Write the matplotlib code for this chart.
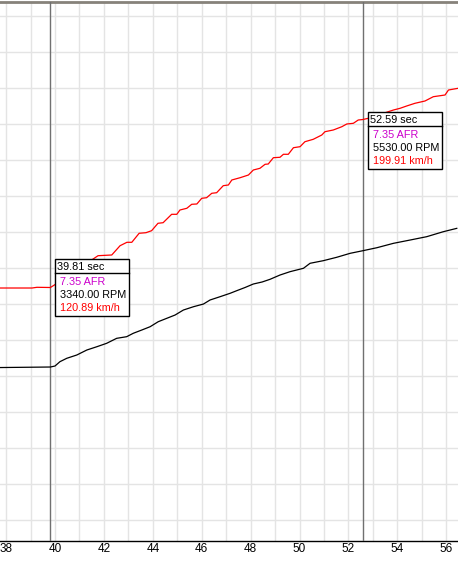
import matplotlib
matplotlib.use('Agg')
import matplotlib.pyplot as plt
from matplotlib.patches import Rectangle
from matplotlib.lines import Line2D
from matplotlib.transforms import IdentityTransform

plt.rcParams['font.family'] = ['Liberation Sans', 'DejaVu Sans']

# speed trace (red), seconds / km/h
speed_time = [37.75, 39.06, 39.26, 39.81, 40.04, 41.76, 42.32, 42.66, 42.94, 43.14,
              43.44, 43.72, 43.95, 44.21, 44.42, 44.77, 44.98, 45.11, 45.39, 45.59,
              45.80, 46.00, 46.20, 46.41, 46.61, 46.88, 47.09, 47.23, 47.57, 47.91,
              48.11, 48.38, 48.59, 48.72, 48.93, 49.20, 49.34, 49.54, 49.75, 50.02,
              50.22, 50.56, 50.91, 51.04, 51.38, 51.73, 51.93, 52.20, 52.40, 52.59,
              52.81, 53.84, 54.11, 54.38, 54.72, 55.13, 55.47, 55.95, 56.09, 56.48]
speed_kmh = [120.65, 120.65, 120.98, 120.89, 122.54, 135.85, 136.18, 140.55, 142.15, 142.15,
             146.39, 146.67, 147.61, 151.09, 151.37, 155.32, 155.32, 157.35, 158.15, 160.03,
             160.17, 162.85, 163.13, 165.20, 165.48, 168.78, 169.11, 171.46, 172.54, 173.81,
             176.16, 176.96, 178.84, 178.98, 181.95, 182.14, 183.55, 183.55, 186.65, 187.12,
             189.47, 190.60, 192.63, 194.18, 194.98, 196.53, 197.80, 198.13, 199.68, 199.91,
             200.48, 204.38, 205.18, 206.27, 207.54, 208.62, 210.64, 211.44, 213.79, 214.59]

# engine speed trace (black)
rpm_time = [37.75, 39.81, 40.00, 40.20, 40.48, 40.89, 41.30, 41.71, 42.11, 42.52,
            42.93, 43.20, 43.55, 43.89, 44.22, 44.57, 44.91, 45.25, 45.66, 46.07,
            46.34, 46.75, 47.16, 47.43, 47.77, 48.11, 48.47, 48.79, 49.20, 49.61,
            50.16, 50.43, 50.97, 51.52, 52.07, 52.59, 53.16, 53.84, 54.52, 55.20,
            55.88, 56.43]
rpm = [3330, 3340, 3359, 3440, 3504, 3566, 3660, 3722, 3786, 3880,
       3911, 3975, 4037, 4099, 4193, 4257, 4319, 4413, 4475, 4526,
       4602, 4664, 4728, 4777, 4837, 4903, 4941, 4991, 5072, 5135,
       5199, 5293, 5342, 5406, 5481, 5530, 5586, 5669, 5731, 5794,
       5888, 5951]

# cursors
cursor_time = [39.81, 52.59]
cursor_afr = [7.35, 7.35]
cursor_rpm = [3340.00, 5530.00]
cursor_kmh = [120.89, 199.91]
box_top = [0.5232, 0.7965]  # axes fraction

W, H = 458, 562
fig = plt.figure(figsize=(W / 100, H / 100), dpi=100)
ax = fig.add_axes([0, 21 / H, 1, 539 / H])
ax2 = ax.twinx()
ax.set_xlim(37.75, 56.48)
ax.set_ylim(1.64, 255.19)
ax2.set_ylim(64, 10213)
ax2.yaxis.set_visible(False)

ax.set_xticks(range(38, 57, 2))
ax.set_xticks(range(39, 57, 2), minor=True)
ax.set_yticks([11.52 + 16.93 * k for k in range(15)])
ax.set_yticklabels([])
ax.grid(True, which='both', color='#e4e4e4', lw=1.0, zorder=0)
ax.tick_params(axis='y', which='both', length=0, width=0)
ax.tick_params(axis='x', which='both', length=0, width=0, pad=1.5, labelsize=8.5)
for s in ['left', 'right']:
    ax.spines[s].set_visible(False)
ax.spines['top'].set_color('#86827a')
ax.spines['top'].set_linewidth(2)
ax.spines['bottom'].set_color('black')
ax.spines['bottom'].set_linewidth(1)
for s in ax2.spines.values():
    s.set_visible(False)

for t in cursor_time:
    ax.axvline(t, color='#707070', lw=1.0, zorder=3)

ax.plot(speed_time, speed_kmh, color='#ff0000', lw=0.9, zorder=4)
ax2.plot(rpm_time, rpm, color='black', lw=0.9)

# info boxes
ident = IdentityTransform()
bw, bh = 74, 57
for t, afr, r, v, top in zip(cursor_time, cursor_afr, cursor_rpm, cursor_kmh, box_top):
    x0 = ax.transData.transform((t, 0))[0] + 5
    y0 = ax.transAxes.transform((0, top))[1]
    fig.add_artist(Rectangle((x0, y0 - bh), bw, bh, transform=ident,
                             facecolor='white', edgecolor='black', lw=1.0, zorder=10))
    fig.add_artist(Line2D([x0, x0 + bw], [y0 - 14, y0 - 14], transform=ident,
                          color='black', lw=1.0, zorder=11))
    rows = [(f'{t:.2f} sec', 'black', 2, 8),
            (f'{afr:.2f} AFR', '#cc00cc', 5, 23),
            (f'{r:.2f} RPM', 'black', 5, 36),
            (f'{v:.2f} km/h', '#ff0000', 5, 49.5)]
    for txt, col, dx, dy in rows:
        fig.text(x0 + dx, y0 - dy, txt, transform=ident, color=col,
                 fontsize=7.8, va='center', ha='left', zorder=12)

fig.savefig('out.png', dpi=100)
